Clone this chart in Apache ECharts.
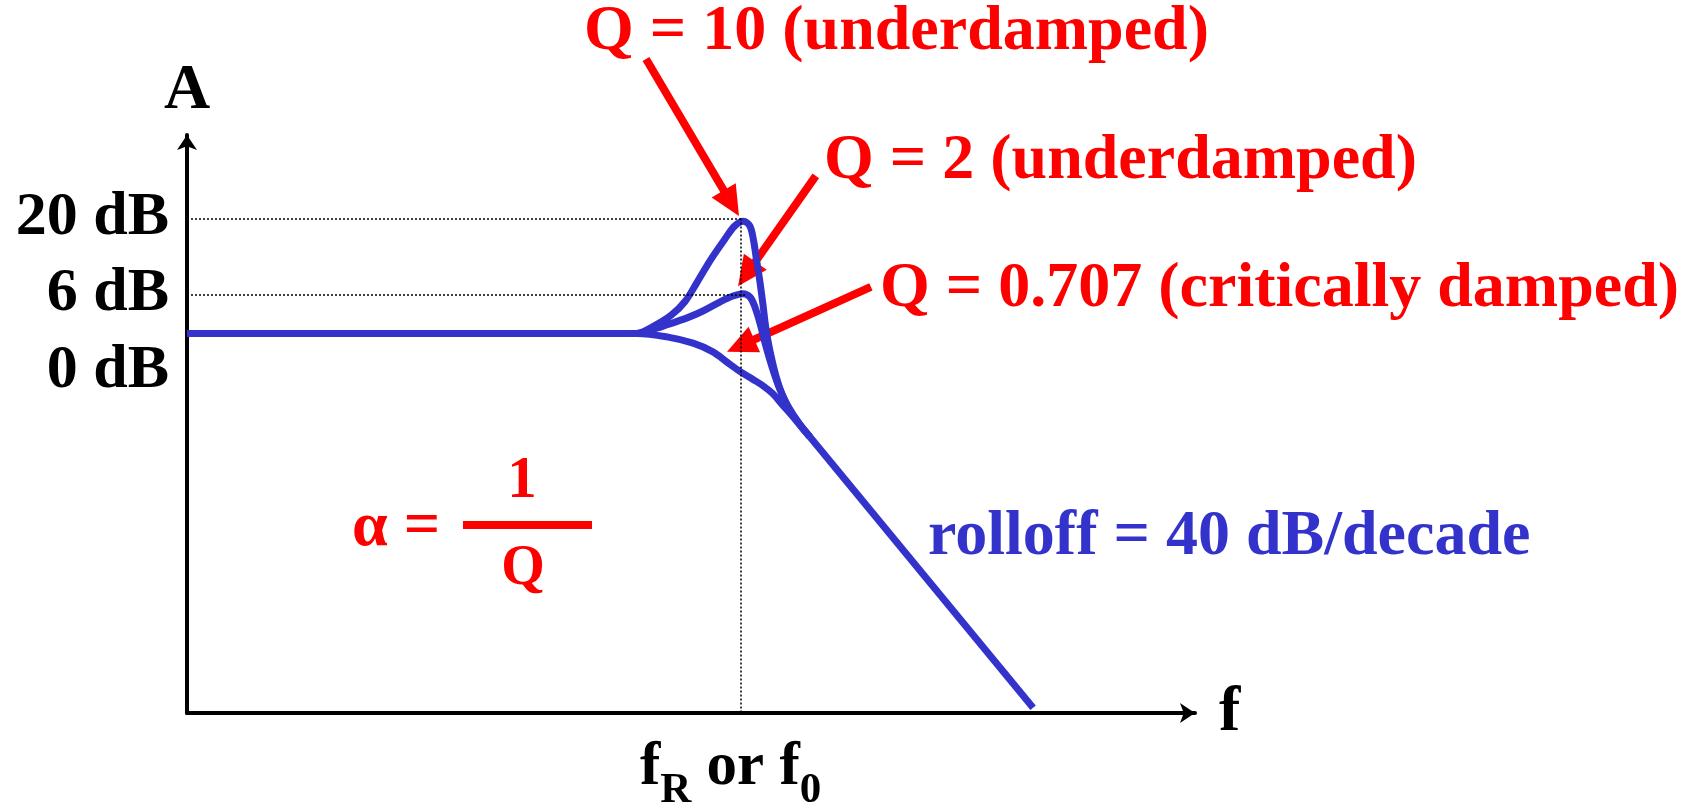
<!DOCTYPE html>
<html lang="en">
<head>
    <meta charset="UTF-8">
    <title>Second-order low-pass response</title>
    <script src="https://cdn.jsdelivr.net/npm/echarts@6.0.0/dist/echarts.min.js"></script>
    <style>
        body { margin: 0; background: #fff; }
    </style>
</head>
<body>
<div id="main" style="width: 1694px;height:805px"></div>
<script>
    // x = log10(f / f0) in decades, y = gain in dB
    var q10Curve = [
        [-2.4, 0], [-0.45, 0], [-0.38, 1.2], [-0.3, 3.2], [-0.24, 5.6],
        [-0.19, 8.8], [-0.13, 12.8], [-0.07, 16.3], [-0.025, 18.7], [0.012, 19.5],
        [0.04, 18.7], [0.056, 16.2], [0.069, 12.8], [0.083, 9.2], [0.097, 5.0],
        [0.11, 0.8], [0.128, -3.2], [0.152, -7.2], [0.18, -10.6], [0.215, -13.5],
        [0.258, -15.9], [0.301, -18.0]
    ];
    var q2Curve = [
        [-2.4, 0], [-0.45, 0], [-0.363, 0.9], [-0.319, 1.5], [-0.232, 2.7],
        [-0.163, 3.9], [-0.088, 5.5], [-0.033, 6.5], [0.01, 6.9], [0.041, 6.3],
        [0.062, 4.6], [0.084, 1.8], [0.106, -1.7], [0.136, -5.8], [0.171, -9.8],
        [0.205, -12.6], [0.258, -15.9], [0.301, -18.0]
    ];
    var q0707Curve = [
        [-2.4, 0], [-0.45, 0], [-0.319, -0.6], [-0.206, -1.7], [-0.12, -3.2],
        [-0.059, -5.0], [-0.003, -6.6], [0.054, -8.0], [0.097, -9.1], [0.14, -10.5],
        [0.179, -12.3], [0.227, -14.5], [0.301, -18.0]
    ];
    var rolloffLine = [[0.301, -18.0], [1.268, -65.1]];

    var yTickValues = [20, 6.8, 0];
    var yTickLabels = ['20 dB', '6 dB', '0 dB'];
    var xTickValues = [0];

    var peakGuides = [20, 6.8];
    var peakGuideEnds = [0, 0.027];

    // annotation arrows [from, to] in the same data units
    var arrowQ10 = [[-0.41, 47.7], [-0.007, 20.4]];
    var arrowQ2 = [[0.326, 27.4], [-0.011, 8.2]];
    var arrowQ0707 = [[0.565, 8.1], [-0.059, -3.2]];

    var BLUE = '#3333cc';
    var RED = '#ff0000';
    var SERIF = '"Liberation Serif", "Times New Roman", serif';

    var content = document.getElementById("main");
    var mychart = echarts.init(content);

    function curve(name, data) {
        return {
            name: name,
            type: 'line',
            data: data,
            smooth: 0.35,
            showSymbol: false,
            silent: true,
            lineStyle: { color: BLUE, width: 7 },
            z: 3
        };
    }

    var guideLines = [];
    for (var i = 0; i < peakGuides.length; i++) {
        guideLines.push([{ coord: [-2.4, peakGuides[i]] }, { coord: [peakGuideEnds[i], peakGuides[i]] }]);
    }
    guideLines.push([{ coord: [0, peakGuides[0]] }, { coord: [0, -66] }]);

    var option = {
        animation: false,
        grid: {
            left: 187, right: 499, top: 135, bottom: 92,
            containLabel: false,
            outerBoundsMode: 'none'
        },
        xAxis: {
            type: 'value',
            min: -2.4,
            max: 1.97,
            name: 'f',
            nameLocation: 'end',
            nameGap: 24,
            nameTextStyle: { fontFamily: SERIF, fontWeight: 'bold', fontSize: 64, color: '#000', padding: [30, 0, 0, 0] },
            axisLine: {
                onZero: false,
                symbol: ['none', 'arrow'],
                symbolSize: [15, 15],
                lineStyle: { color: '#000', width: 4 }
            },
            axisTick: { show: false },
            splitLine: { show: false },
            axisLabel: {
                customValues: xTickValues,
                margin: 25,
                padding: [0, 20, 0, 0],
                formatter: function () {
                    return '{m|f}{s|R}{m| or f}{s|0}';
                },
                rich: {
                    m: { fontFamily: SERIF, fontWeight: 'bold', fontSize: 61, lineHeight: 64, color: '#000', verticalAlign: 'top' },
                    s: { fontFamily: SERIF, fontWeight: 'bold', fontSize: 43, lineHeight: 42, color: '#000', verticalAlign: 'top', padding: [31, 0, 0, 0] }
                }
            }
        },
        yAxis: {
            type: 'value',
            min: -66,
            max: 34.5,
            name: 'A',
            nameLocation: 'end',
            nameGap: 12,
            nameTextStyle: { fontFamily: SERIF, fontWeight: 'bold', fontSize: 64, color: '#000' },
            axisLine: {
                onZero: false,
                symbol: ['none', 'arrow'],
                symbolSize: [15, 15],
                lineStyle: { color: '#000', width: 4 }
            },
            axisTick: { show: false },
            splitLine: { show: false },
            axisLabel: {
                customValues: yTickValues,
                margin: 18,
                fontFamily: SERIF,
                fontWeight: 'bold',
                fontSize: 62,
                color: '#000',
                formatter: function (v) {
                    var label = yTickLabels[yTickValues.indexOf(v)];
                    return v === 0 ? '{low|' + label + '}' : label;
                },
                rich: {
                    low: { fontFamily: SERIF, fontWeight: 'bold', fontSize: 62, color: '#000', padding: [76, 0, 0, 0] }
                }
            }
        },
        series: [
            curve('Q = 10', q10Curve),
            curve('Q = 2', q2Curve),
            curve('Q = 0.707', q0707Curve),
            {
                name: 'rolloff',
                type: 'line',
                data: rolloffLine,
                showSymbol: false,
                silent: true,
                lineStyle: { color: BLUE, width: 7 },
                z: 3,
                markLine: {
                    silent: true,
                    symbol: ['none', 'none'],
                    label: { show: false },
                    lineStyle: { color: '#000', width: 1.5, type: [2, 2] },
                    data: guideLines
                }
            }
        ]
    };
    mychart.setOption(option);

    function textEl(id, text, x, y, size, color) {
        return {
            type: 'text', id: id, x: x, y: y, silent: true,
            style: {
                text: text, fill: color,
                font: 'bold ' + size + 'px ' + SERIF,
                align: 'left', verticalAlign: 'middle'
            }
        };
    }

    function arrowEls(id, pair) {
        var a = mychart.convertToPixel({ gridIndex: 0 }, pair[0]);
        var b = mychart.convertToPixel({ gridIndex: 0 }, pair[1]);
        var dx = b[0] - a[0], dy = b[1] - a[1];
        var len = Math.sqrt(dx * dx + dy * dy);
        var ux = dx / len, uy = dy / len;
        var headLen = 30, headHalf = 14;
        var base = [b[0] - ux * headLen, b[1] - uy * headLen];
        return [{
            type: 'polyline', id: id + '-shaft', silent: true,
            shape: { points: [a, [base[0] + ux * 4, base[1] + uy * 4]] },
            style: { stroke: RED, lineWidth: 8, fill: null }
        }, {
            type: 'polygon', id: id + '-head', silent: true,
            shape: {
                points: [b,
                    [base[0] - uy * headHalf, base[1] + ux * headHalf],
                    [base[0] + uy * headHalf, base[1] - ux * headHalf]]
            },
            style: { fill: RED }
        }];
    }

    var graphics = [
        textEl('t-q10', 'Q = 10 (underdamped)', 584, 32, 64, RED),
        textEl('t-q2', 'Q = 2 (underdamped)', 824, 161, 64, RED),
        textEl('t-q0707', 'Q = 0.707 (critically damped)', 880, 289, 64, RED),
        textEl('t-roll', 'rolloff = 40 dB/decade', 928, 537, 64, BLUE),
        textEl('t-alpha', 'α =', 352, 528, 64, RED),
        {
            type: 'text', id: 't-one', x: 522, y: 482, silent: true,
            style: { text: '1', fill: RED, font: 'bold 59px ' + SERIF, align: 'center', verticalAlign: 'middle' }
        },
        {
            type: 'rect', id: 'r-bar', silent: true,
            shape: { x: 463, y: 521, width: 129, height: 8 },
            style: { fill: RED }
        },
        {
            type: 'text', id: 't-q', x: 523, y: 570, silent: true,
            style: { text: 'Q', fill: RED, font: 'bold 56px ' + SERIF, align: 'center', verticalAlign: 'middle' }
        }
    ];
    graphics = graphics.concat(arrowEls('a-q10', arrowQ10), arrowEls('a-q2', arrowQ2), arrowEls('a-q0707', arrowQ0707));
    mychart.setOption({ graphic: graphics });
</script>
</body>
</html>
